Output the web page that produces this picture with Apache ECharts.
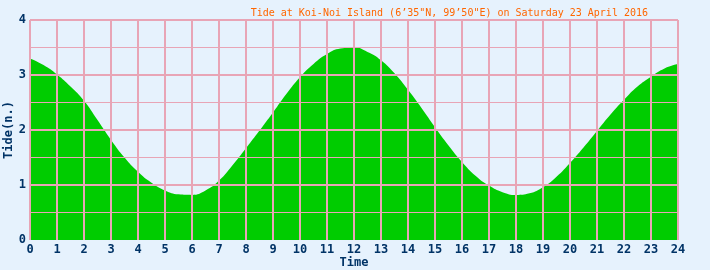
<!DOCTYPE html>
<html><head><meta charset="utf-8">
<script src="https://cdn.jsdelivr.net/npm/echarts@6/dist/echarts.min.js"></script>
<style>html,body{margin:0;padding:0;background:#e6f2fd}#c{width:710px;height:270px}</style>
</head><body><div id="c"></div>
<script>
const titleText = 'Tide at Koi-Noi Island (6\u201935"N, 99\u201950"E) on Saturday 23 April 2016';
const hours = [0,0.5,1,1.5,2,2.5,3,3.5,4,4.5,5,5.5,6,6.5,7,7.5,8,8.5,9,9.5,10,10.5,11,11.5,12,12.5,13,13.5,14,14.5,15,15.5,16,16.5,17,17.5,18,18.5,19,19.5,20,20.5,21,21.5,22,22.5,23,23.5,24];
const tide = [3.30,3.18,3.01,2.79,2.53,2.18,1.82,1.50,1.24,1.04,0.90,0.83,0.82,0.90,1.08,1.36,1.67,1.99,2.32,2.66,2.96,3.20,3.38,3.48,3.50,3.42,3.27,3.03,2.73,2.40,2.05,1.72,1.42,1.17,0.99,0.87,0.82,0.85,0.96,1.15,1.40,1.68,1.98,2.28,2.55,2.79,2.97,3.12,3.20];
const xName = 'Time';
const yName = 'Tide(n.)';

const pink = '#e8a5b6';
const navy = '#003366';
const font = 'DejaVu Sans Mono';
const chart = echarts.init(document.getElementById('c'));
chart.setOption({
  backgroundColor: '#e6f2fd',
  animation: false,
  title: {text: titleText, right: 57, top: 3,
    textStyle: {color: '#ff6600', fontFamily: font, fontSize: 10, fontWeight: 'normal'}},
  grid: {left: 30, right: 32, top: 20, bottom: 30, containLabel: false, outerBoundsMode: 'none'},
  xAxis: {type: 'value', min: 0, max: 24, interval: 1, z: 10,
    name: xName, nameLocation: 'middle', nameGap: 17, nameMoveOverlap: false,
    nameTextStyle: {color: navy, fontFamily: font, fontWeight: 'bold', fontSize: 12},
    axisLine: {show: false}, axisTick: {show: false},
    axisLabel: {color: navy, fontFamily: font, fontWeight: 'bold', fontSize: 12, margin: 4},
    splitLine: {show: true, lineStyle: {color: pink, width: 2}}},
  yAxis: {type: 'value', min: 0, max: 4, interval: 1, z: 10,
    name: yName, nameLocation: 'middle', nameGap: 15, nameMoveOverlap: false,
    nameTextStyle: {color: navy, fontFamily: font, fontWeight: 'bold', fontSize: 12},
    axisLine: {show: false}, axisTick: {show: false},
    minorTick: {show: false, splitNumber: 2},
    minorSplitLine: {show: true, lineStyle: {color: pink, width: 1}},
    axisLabel: {color: navy, fontFamily: font, fontWeight: 'bold', fontSize: 12, margin: 4, padding: [4,0,0,0]},
    splitLine: {show: true, showMinLine: false, lineStyle: {color: pink, width: 2}}},
  series: [{type: 'line', data: hours.map((h, i) => [h, tide[i]]), smooth: 0.5,
    symbol: 'none', lineStyle: {width: 0}, areaStyle: {color: '#00cc00', opacity: 1}, z: 2}]
});
</script></body></html>
